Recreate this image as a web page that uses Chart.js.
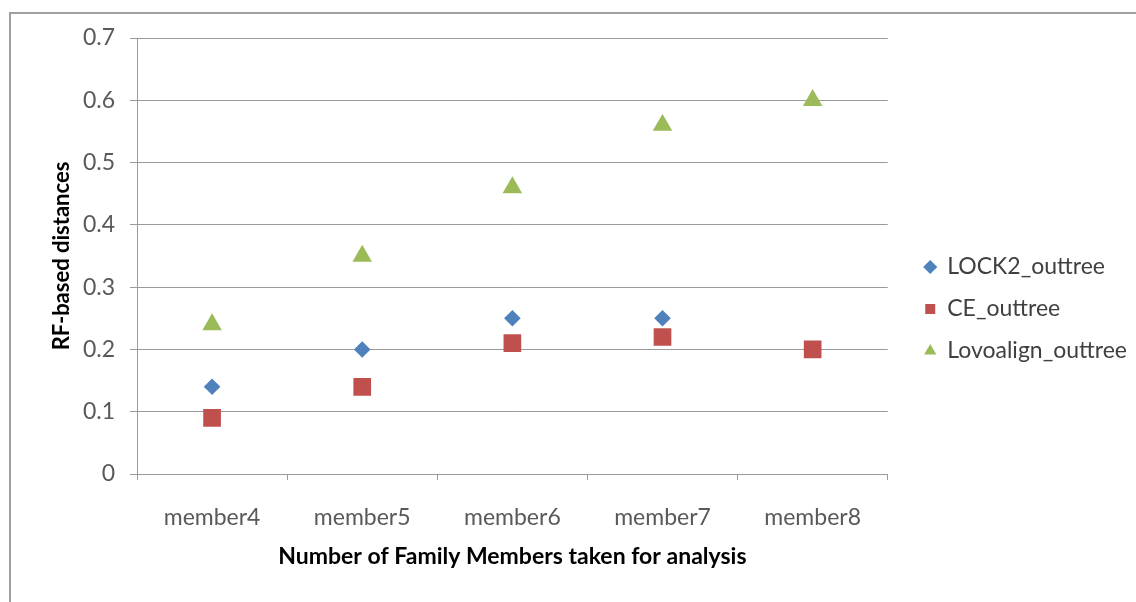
<!DOCTYPE html>
<html>
<head>
<meta charset="utf-8">
<script src="https://cdn.jsdelivr.net/npm/chart.js@4.4.1/dist/chart.umd.min.js"></script>
<style>
  html, body { margin: 0; padding: 0; background: #fff; }
  #wrap { position: relative; width: 1136px; height: 602px; overflow: hidden; }
  #frame { position: absolute; left: 9px; top: 12px; width: 1200px; height: 700px;
           border-top: 2px solid #a0a0a0; border-left: 2px solid #a0a0a0; }
  canvas { position: absolute; left: 0; top: 0; }
</style>
</head>
<body>
<div id="wrap">
  <div id="frame"></div>
  <canvas id="chart" width="1136" height="602"></canvas>
</div>
<script>
const categories = ['member4', 'member5', 'member6', 'member7', 'member8'];
const lock2Values = [0.14, 0.20, 0.25, 0.25, 0.20];
const ceValues = [0.09, 0.14, 0.21, 0.22, 0.20];
const lovoalignValues = [0.24, 0.35, 0.46, 0.56, 0.60];
const yTickLabels = ['0', '0.1', '0.2', '0.3', '0.4', '0.5', '0.6', '0.7'];

const tickFont = { family: 'Lato', size: 23 };
const gridColor = '#9a9a9a';

// moves the legend a bit away from the plot, like the Excel layout
const legendNudge = {
    id: 'legendNudge',
    afterLayout(chart) {
        const lg = chart.legend;
        const dx = chart.chartArea.right + 18 - lg.left;
        lg.left += dx;
        lg.right += dx;
        lg.top -= 11;
        lg.bottom -= 11;
    }
};

new Chart(document.getElementById('chart'), {
    type: 'line',
    data: {
        labels: categories,
        datasets: [
            {
                label: 'LOCK2_outtree',
                data: lock2Values,
                showLine: false,
                pointStyle: 'rectRot',
                pointRadius: 8.3,
                pointBorderWidth: 0,
                backgroundColor: '#4F81BD',
                borderColor: '#4F81BD',
                order: 2
            },
            {
                label: 'CE_outtree',
                data: ceValues,
                showLine: false,
                pointStyle: 'rect',
                pointRadius: 12.5,
                pointBorderWidth: 0,
                backgroundColor: '#C0504D',
                borderColor: '#C0504D',
                order: 1
            },
            {
                label: 'Lovoalign_outtree',
                data: lovoalignValues,
                showLine: false,
                pointStyle: 'triangle',
                pointRadius: 11.3,
                pointBorderWidth: 0,
                backgroundColor: '#9BBB59',
                borderColor: '#9BBB59',
                order: 3
            }
        ]
    },
    options: {
        responsive: false,
        animation: false,
        devicePixelRatio: 1,
        layout: { padding: { left: 0, top: 38, right: 17, bottom: 0 } },
        plugins: {
            tooltip: { enabled: false },
            legend: {
                position: 'right',
                labels: {
                    usePointStyle: true,
                    boxWidth: 11,
                    boxHeight: 10,
                    padding: 19,
                    font: tickFont,
                    color: '#404040',
                    sort: (a, b) => a.datasetIndex - b.datasetIndex
                }
            }
        },
        scales: {
            x: {
                offset: true,
                grid: { offset: true, drawOnChartArea: false, tickLength: 6, color: gridColor },
                border: { color: gridColor },
                ticks: { padding: 24, font: tickFont, color: '#595959' },
                title: {
                    display: true,
                    text: 'Number of Family Members taken for analysis',
                    font: { family: 'Lato', size: 23, weight: 'bold' },
                    color: '#000',
                    padding: { top: 0, bottom: 32 }
                },
                afterFit: s => { s.height = 128; }
            },
            y: {
                min: 0,
                max: 0.7,
                grid: { tickLength: 7, color: gridColor },
                border: { color: gridColor },
                ticks: {
                    stepSize: 0.1,
                    padding: 15,
                    font: tickFont,
                    color: '#595959',
                    callback: (v, i) => yTickLabels[i]
                },
                title: {
                    display: true,
                    text: 'RF-based distances',
                    font: { family: 'Lato', size: 22, weight: 'bold' },
                    color: '#000',
                    padding: { top: 49, bottom: 0 }
                },
                afterFit: s => { s.width = 137; }
            }
        }
    },
    plugins: [legendNudge]
});
</script>
</body>
</html>
